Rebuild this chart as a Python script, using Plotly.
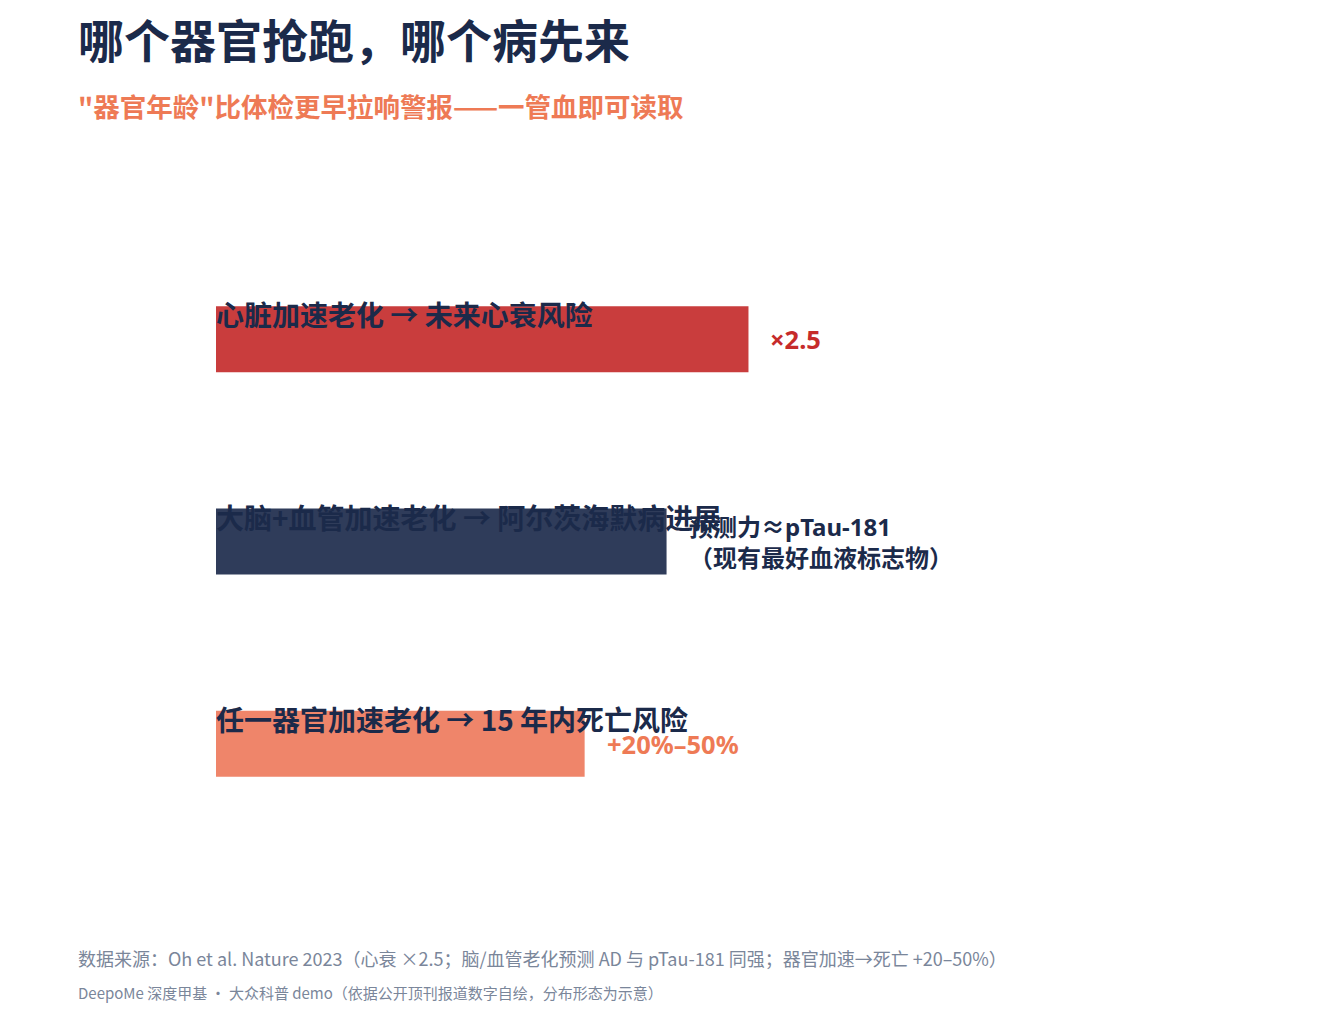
import plotly.graph_objects as go

# ---- data ----
categories = ["心脏加速老化 → 未来心衰风险",
              "大脑+血管加速老化 → 阿尔茨海默病进展",
              "任一器官加速老化 → 15 年内死亡风险"]
scores = [1.3, 1.1, 0.9]
value_labels = ["×2.5", "预测力≈pTau-181<br>（现有最好血液标志物）", "+20%–50%"]

# ---- style ----
bar_colors = ["#C93D3D", "#2F3C5A", "#EF856A"]
label_colors = ["#C62B2B", "#1B2A4A", "#EE7A55"]
label_sizes = [25.5, 24, 25.5]

title = "哪个器官抢跑，哪个病先来"
subtitle = "\"器官年龄\"比体检更早拉响警报——一管血即可读取"
source = "数据来源：Oh et al. Nature 2023（心衰 ×2.5；脑/血管老化预测 AD 与 pTau-181 同强；器官加速→死亡 +20–50%）"
credit = "DeepoMe 深度甲基 · 大众科普 demo（依据公开顶刊报道数字自绘，分布形态为示意）"

W, H = 1320, 1011
ML, MR, MT, MB = 208, 88, 230, 174
PW, PH = W - ML - MR, H - MT - MB

NAVY = "#1B2A4A"
FONT = "Noto Sans CJK SC"
FONT_LAT = "Noto Sans, Noto Sans CJK SC"

def px_x(x):
    return (x - ML) / PW

def px_y(y):
    return (H - MB - y) / PH

fig = go.Figure()
fig.add_trace(go.Bar(
    x=scores, y=categories, orientation="h",
    marker=dict(color=bar_colors, line=dict(width=0)),
    width=0.326, hoverinfo="skip", showlegend=False,
))

annotations = []
for cat, val, lab, col, sz in zip(categories, scores, value_labels, label_colors, label_sizes):
    annotations.append(dict(
        x=0, y=cat, xref="x", yref="y", text=cat, showarrow=False,
        xanchor="left", yanchor="middle", yshift=25, xshift=-2,
        font=dict(family=FONT, size=28, color=NAVY, weight="bold"),
    ))
    annotations.append(dict(
        x=val, y=cat, xref="x", yref="y", text=lab, showarrow=False,
        xanchor="left", yanchor="middle", xshift=20, align="left",
        font=dict(family=FONT_LAT, size=sz, color=col, weight="bold"),
    ))

annotations += [
    dict(x=px_x(68), y=px_y(30), xref="paper", yref="paper", text=title,
         showarrow=False, xanchor="left", yanchor="middle",
         font=dict(family=FONT, size=46, color=NAVY, weight="bold")),
    dict(x=px_x(68), y=px_y(98), xref="paper", yref="paper", text=subtitle,
         showarrow=False, xanchor="left", yanchor="middle",
         font=dict(family=FONT, size=26.5, color="#EE7A55", weight="bold")),
    dict(x=px_x(68), y=px_y(950), xref="paper", yref="paper", text=source,
         showarrow=False, xanchor="left", yanchor="middle",
         font=dict(family=FONT, size=18, color="#7A869A")),
    dict(x=px_x(68), y=px_y(984), xref="paper", yref="paper", text=credit,
         showarrow=False, xanchor="left", yanchor="middle",
         font=dict(family=FONT, size=15, color="#7A869A")),
]

fig.update_layout(
    width=W, height=H,
    margin=dict(l=ML, r=MR, t=MT, b=MB, autoexpand=False),
    paper_bgcolor="white", plot_bgcolor="white",
    xaxis=dict(range=[0, 2.5], visible=False, fixedrange=True),
    yaxis=dict(autorange="reversed", visible=False, fixedrange=True),
    annotations=annotations,
    font=dict(family=FONT),
)

fig.write_html("out.html")
